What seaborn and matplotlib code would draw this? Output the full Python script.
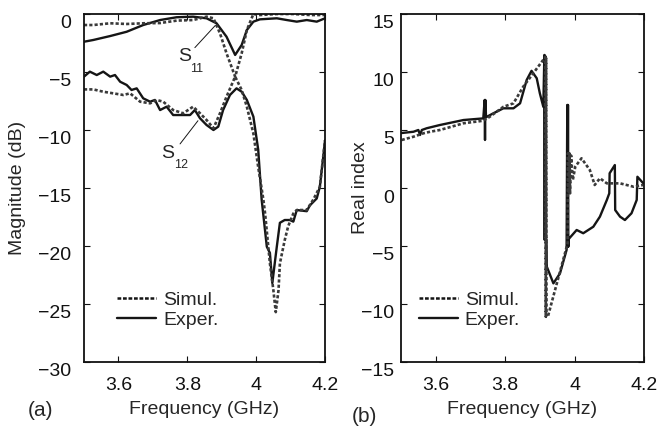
import numpy as np
import pandas as pd
import matplotlib
matplotlib.use("Agg")
import matplotlib.pyplot as plt
import matplotlib.transforms as mtransforms
from matplotlib.lines import Line2D
import seaborn as sns

# ---------------- data (a) magnitude ----------------
s11_exp_f = [3.500, 3.527, 3.576, 3.624, 3.672, 3.721, 3.769, 3.817, 3.856, 3.885,
             3.914, 3.939, 3.958, 3.973, 3.992, 4.011, 4.060, 4.089, 4.118, 4.147,
             4.176, 4.200]
s11_exp_db = [-2.39, -2.24, -1.90, -1.53, -0.95, -0.52, -0.28, -0.23, -0.37, -0.80,
              -1.96, -3.53, -2.67, -1.38, -0.66, -0.46, -0.37, -0.52, -0.66, -0.52,
              -0.66, -0.37]

s11_sim_f = [3.500, 3.527, 3.576, 3.624, 3.672, 3.721, 3.769, 3.817, 3.856, 3.876,
             3.895, 3.914, 3.939, 3.958, 3.973, 3.992, 4.011, 4.060, 4.108, 4.157,
             4.200]
s11_sim_db = [-0.95, -0.95, -0.80, -0.86, -0.80, -0.78, -0.57, -0.52, -0.23, -0.37,
              -1.67, -3.39, -5.40, -3.39, -1.38, 0.00, -0.09, 0.00, 0.00, -0.09,
              -0.09]

s12_exp_f = [3.500, 3.517, 3.537, 3.556, 3.576, 3.590, 3.605, 3.624, 3.638, 3.653,
             3.672, 3.692, 3.706, 3.721, 3.740, 3.759, 3.788, 3.808, 3.822, 3.837,
             3.856, 3.876, 3.890, 3.904, 3.924, 3.943, 3.958, 3.973, 3.992, 4.006,
             4.016, 4.031, 4.040, 4.047, 4.054, 4.060, 4.069, 4.083, 4.098, 4.108,
             4.118, 4.147, 4.156, 4.176, 4.185, 4.195, 4.200]
s12_exp_db = [-5.40, -4.97, -5.26, -4.97, -5.40, -5.26, -5.84, -6.12, -6.55, -6.41,
              -7.27, -7.56, -7.41, -8.28, -7.99, -8.71, -8.71, -8.71, -8.28, -8.99,
              -9.57, -10.00, -9.71, -8.28, -6.98, -6.41, -6.70, -7.41, -8.85, -11.70,
              -16.00, -20.06, -20.60, -23.20, -21.50, -20.06, -18.00, -17.76, -17.76, -17.90,
              -16.90, -17.00, -16.50, -15.90, -14.90, -12.30, -10.90]

s12_sim_f = [3.500, 3.527, 3.556, 3.585, 3.614, 3.634, 3.663, 3.692, 3.711, 3.730,
             3.759, 3.788, 3.817, 3.837, 3.856, 3.876, 3.895, 3.914, 3.939, 3.958,
             3.973, 3.992, 4.006, 4.021, 4.026, 4.040, 4.050, 4.057, 4.065, 4.069,
             4.083, 4.093, 4.108, 4.118, 4.147, 4.166, 4.185, 4.200]
s12_sim_db = [-6.50, -6.50, -6.70, -6.84, -6.98, -6.84, -7.56, -7.70, -7.41, -7.56,
              -8.28, -8.56, -7.99, -8.56, -9.14, -9.85, -8.56, -7.13, -5.40, -6.55,
              -7.99, -10.30, -13.20, -16.00, -17.20, -21.50, -23.80, -25.70, -23.80, -21.50,
              -19.50, -18.30, -17.20, -16.90, -16.90, -16.00, -14.90, -10.90]

# ---------------- data (b) real index ----------------
n_exp_f = [3.502, 3.536, 3.550, 3.555, 3.560, 3.574, 3.612, 3.680, 3.737, 3.741,
           3.742, 3.743, 3.745, 3.766, 3.795, 3.824, 3.843, 3.862, 3.876, 3.891,
           3.900, 3.910, 3.913, 3.914, 3.915, 3.916, 3.917, 3.918, 3.919, 3.920,
           3.939, 3.958, 3.977, 3.979, 3.980, 3.981, 3.982, 3.983, 4.006, 4.025,
           4.054, 4.073, 4.093, 4.100, 4.101, 4.116, 4.117, 4.131, 4.145, 4.164,
           4.179, 4.181, 4.198]
n_exp_v = [4.74, 4.85, 5.00, 4.57, 5.00, 5.15, 5.43, 5.86, 6.00, 7.59,
           4.14, 7.59, 6.10, 6.44, 6.87, 6.87, 7.30, 9.31, 10.10, 9.46,
           8.16, 7.00, 11.47, -4.48, 11.40, -4.48, 11.30, -4.48, -4.48, -6.78,
           -8.22, -7.36, -5.34, 7.16, -5.06, 7.16, -5.06, -4.40, -3.62, -3.90,
           -3.34, -2.47, -1.03, -0.46, 1.27, 1.98, -1.90, -2.47, -2.76, -2.18,
           -1.03, 0.97, 0.40]

n_sim_f = [3.502, 3.536, 3.565, 3.584, 3.612, 3.680, 3.737, 3.756, 3.795, 3.824,
           3.852, 3.881, 3.916, 3.917, 3.918, 3.919, 3.923, 3.980, 3.981, 3.983,
           3.985, 3.987, 3.990, 3.995, 4.002, 4.020, 4.044, 4.058, 4.073, 4.093,
           4.131, 4.170, 4.198]
n_sim_v = [4.14, 4.42, 4.72, 4.85, 5.00, 5.58, 5.80, 6.15, 7.00, 7.30,
           8.73, 9.89, 11.30, -11.10, 11.20, -11.10, -11.10, -4.77, 3.00, -0.46,
           3.00, -0.46, 2.80, 0.69, 1.84, 2.56, 1.55, 0.26, 0.84, 0.40,
           0.40, 0.11, 0.26]

xticks = [3.6, 3.8, 4.0, 4.2]
xticklabels = ["3.6", "3.8", "4", "4.2"]
yticks_a = [0, -5, -10, -15, -20, -25, -30]
yticks_b = [15, 10, 5, 0, -5, -10, -15]

sns.set_style("ticks")
plt.rcParams["font.family"] = ["Liberation Sans", "DejaVu Sans"]
plt.rcParams["axes.unicode_minus"] = True

FS = 14
fig = plt.figure(figsize=(6.63, 4.26), dpi=100)
W, H = 663.0, 426.0
axA = fig.add_axes([84 / W, 1 - 362 / H, (325 - 84) / W, (362 - 14) / H])
axB = fig.add_axes([401 / W, 1 - 362 / H, (644 - 401) / W, (362 - 14) / H])

SOLID = "#151515"
DOT = "#3a3a3a"
dot_ls = (0, (1.2, 0.8))

def draw(ax, f, v, style):
    df = pd.DataFrame({"f": f, "v": v})
    if style == "sim":
        sns.lineplot(data=df, x="f", y="v", ax=ax, sort=False, estimator=None,
                     color=DOT, lw=1.9, linestyle=dot_ls, legend=False)
    else:
        sns.lineplot(data=df, x="f", y="v", ax=ax, sort=False, estimator=None,
                     color=SOLID, lw=1.7, legend=False)

draw(axA, s11_exp_f, s11_exp_db, "exp")
draw(axA, s12_exp_f, s12_exp_db, "exp")
draw(axA, s11_sim_f, s11_sim_db, "sim")
draw(axA, s12_sim_f, s12_sim_db, "sim")

draw(axB, n_exp_f, n_exp_v, "exp")
draw(axB, n_sim_f, n_sim_v, "sim")

for ax, yt, ylim, ylab, ypad in [(axA, yticks_a, (-30, 0), "Magnitude (dB)", 9),
                                 (axB, yticks_b, (-15, 15), "Real index", 5)]:
    ax.set_xlim(3.5, 4.2)
    ax.set_ylim(*ylim)
    ax.set_xticks(xticks)
    ax.set_xticklabels(xticklabels)
    ax.set_yticks(yt)
    ax.set_yticklabels([str(t).replace("-", "\u2212") for t in yt])
    ax.tick_params(direction="in", length=4, width=0.8, top=True, right=True,
                   labelsize=FS, colors="#111111")
    ax.tick_params(axis="x", pad=11)
    ax.tick_params(axis="y", pad=ypad)
    ax.set_xlabel("Frequency (GHz)", fontsize=FS, labelpad=5)
    ax.set_ylabel(ylab, fontsize=FS)
    for s in ax.spines.values():
        s.set_linewidth(1.3)
        s.set_color("#111111")

axA.yaxis.set_label_coords(-0.24, 0.5)
axB.yaxis.set_label_coords(-0.13, 0.5)

# legends
h_sim = Line2D([], [], color=SOLID, lw=1.8, linestyle=(0, (1.5, 0.7)))
h_exp = Line2D([], [], color=SOLID, lw=1.7)
for ax, x0 in [(axA, 0.139), (axB, 0.074)]:
    ax.legend([h_sim, h_exp], ["Simul.", "Exper."], loc="lower left",
              bbox_to_anchor=(x0, 0.094), frameon=False, fontsize=FS,
              handlelength=2.0, handletextpad=0.35, labelspacing=0.15,
              borderpad=0, borderaxespad=0)

# S11 / S12 annotations
axA.plot([3.822, 3.881], [-2.9, -1.0], color=SOLID, lw=0.7)
axA.text(3.772, -3.7, "S", fontsize=FS, va="center", ha="left")
axA.text(3.809, -4.7, "11", fontsize=FS - 5, va="center", ha="left")
axA.plot([3.779, 3.831], [-11.2, -9.2], color=SOLID, lw=0.7)
axA.text(3.724, -12.0, "S", fontsize=FS, va="center", ha="left")
axA.text(3.761, -13.0, "12", fontsize=FS - 5, va="center", ha="left")

fig.text(28 / W, 1 - 410 / H, "(a)", fontsize=FS + 1, va="center", ha="left")
fig.text(352 / W, 1 - 416 / H, "(b)", fontsize=FS + 1, va="center", ha="left")

# y tick labels sit slightly below their ticks, as in the reference
off = mtransforms.ScaledTranslation(0, -8 / 100, fig.dpi_scale_trans)
for ax in (axA, axB):
    for lab in ax.get_yticklabels():
        lab.set_transform(lab.get_transform() + off)

fig.savefig("out.png", dpi=100)
